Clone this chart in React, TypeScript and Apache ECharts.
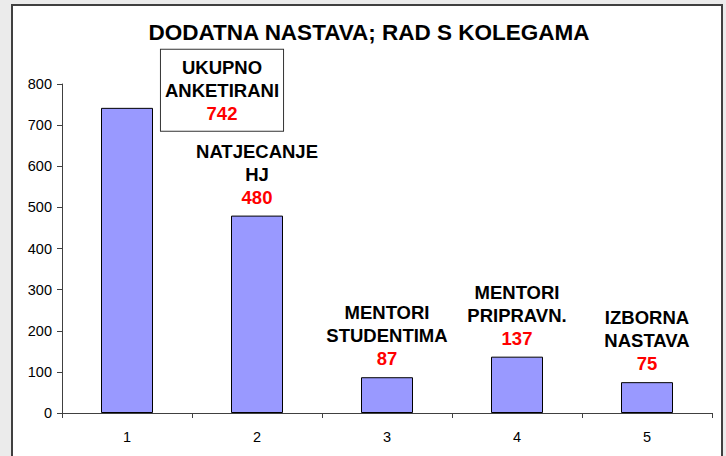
import React, { useEffect, useRef } from "react";
import * as echarts from "echarts";

const title = "DODATNA NASTAVA; RAD S KOLEGAMA";
const categories = ["1", "2", "3", "4", "5"];
const values = [742, 480, 87, 137, 75];
const labelNames = [
  ["UKUPNO", "ANKETIRANI"],
  ["NATJECANJE", "HJ"],
  ["MENTORI", "STUDENTIMA"],
  ["MENTORI", "PRIPRAVN."],
  ["IZBORNA", "NASTAVA"],
];
const yMin = 0;
const yMax = 800;
const yStep = 100;

const FONT = "Liberation Sans, Arial, sans-serif";

export default function App() {
  const ref = useRef<HTMLDivElement>(null);
  useEffect(() => {
    if (!ref.current) return;
    const chart = echarts.init(ref.current, null, { renderer: "svg" });
    const rich = {
      n: { fontFamily: FONT, fontSize: 18.5, fontWeight: "bold", color: "#000", lineHeight: 23, align: "center" },
      v: { fontFamily: FONT, fontSize: 18.5, fontWeight: "bold", color: "#ff0000", lineHeight: 23, align: "center" },
    };
    const data = values.map((v, i) => {
      const item: any = { value: v };
      if (i === 0) {
        item.label = {
          offset: [95, 30],
          backgroundColor: "#fff",
          borderColor: "#333",
          borderWidth: 1,
          padding: [6, 4, 6, 4],
        };
      }
      return item;
    });
    chart.setOption({
      animation: false,
      backgroundColor: "transparent",
      title: {
        text: title,
        left: 369,
        textAlign: "center",
        top: 21,
        padding: 0,
        textStyle: { fontFamily: FONT, fontSize: 22.5, fontWeight: "bold", color: "#000" },
      },
      grid: { left: 62, right: 14, top: 84, bottom: 43, containLabel: false },
      xAxis: {
        type: "category",
        data: categories,
        boundaryGap: true,
        axisLine: { lineStyle: { color: "#404040", width: 1 } },
        axisTick: { show: true, alignWithLabel: false, length: 5, lineStyle: { color: "#404040" } },
        axisLabel: { fontFamily: FONT, fontSize: 14.5, color: "#000", margin: 16 },
        splitLine: { show: false },
      },
      yAxis: {
        type: "value",
        min: yMin,
        max: yMax,
        interval: yStep,
        axisLine: { show: true, lineStyle: { color: "#404040", width: 1 } },
        axisTick: { show: true, length: 5, lineStyle: { color: "#404040" } },
        axisLabel: { fontFamily: FONT, fontSize: 14.5, color: "#000", margin: 10 },
        splitLine: { show: false },
      },
      series: [
        {
          type: "bar",
          data,
          barWidth: "40%",
          itemStyle: { color: "#9999ff", borderColor: "#000", borderWidth: 1 },
          label: {
            show: true,
            position: "top",
            distance: 7,
            formatter: (p: any) => {
              const n = labelNames[p.dataIndex];
              return n.map((s) => `{n|${s}}`).join("\n") + `\n{v|${p.value}}`;
            },
            rich,
          },
        },
      ],
    });
    return () => chart.dispose();
  }, []);
  return (
    <div style={{ position: "fixed", left: 0, top: 0, width: 726, height: 456, background: "#ebebeb", overflow: "hidden" }}>
      <div
        style={{
          position: "absolute",
          left: 11,
          top: 4,
          width: 708,
          height: 470,
          background: "#fff",
          border: "2px solid #404040",
        }}
      />
      <div ref={ref} style={{ position: "absolute", left: 0, top: 0, width: 726, height: 456 }} />
    </div>
  );
}
